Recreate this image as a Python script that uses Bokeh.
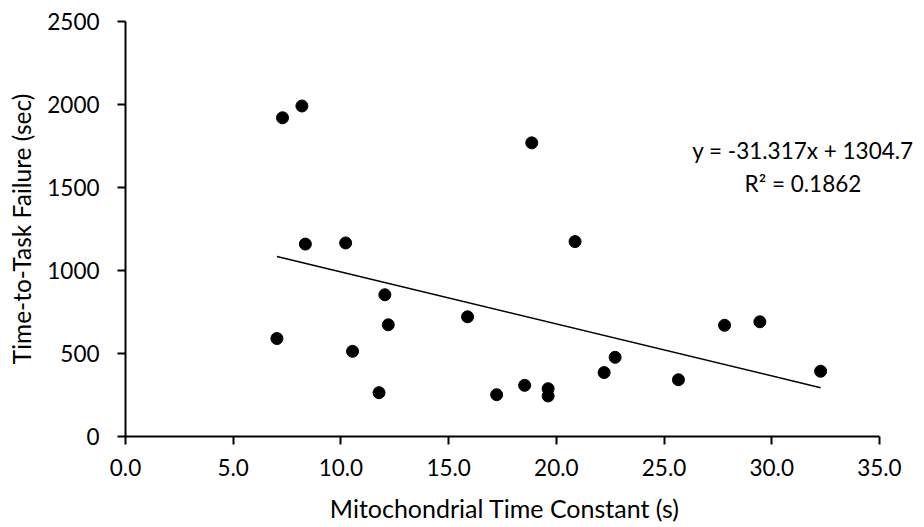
from bokeh.plotting import figure
from bokeh.models import Range1d, Label, FixedTicker, CustomJSTickFormatter
from bokeh.embed import file_html
from bokeh.resources import INLINE

# Data
tau = [7.03, 7.29, 8.19, 8.35, 10.22, 10.54, 11.77, 12.04, 12.2, 15.88, 17.23,
       18.53, 18.86, 19.62, 19.62, 20.87, 22.22, 22.73, 25.67, 27.81, 29.45, 32.27]
ttf = [590, 1920, 1991, 1159, 1166, 513, 264, 854, 673, 721, 252,
       308, 1769, 288, 244, 1174, 385, 477, 342, 670, 691, 393]

slope = -31.317
intercept = 1304.7
r2 = 0.1862

x_ticks = [0, 5, 10, 15, 20, 25, 30, 35]
y_ticks = [0, 500, 1000, 1500, 2000, 2500]

x_title = "Mitochondrial Time Constant (s)"
y_title = "Time-to-Task Failure (sec)"

FONT = "Lato"
FS = "22.5px"

# x range extends a little past 35 so the equation text is not clipped;
# the axis itself is bounded to 0..35
p = figure(width=924, height=527, output_backend="svg", toolbar_location=None,
           x_range=Range1d(0, 37.0), y_range=Range1d(0, 2500),
           min_border_left=125, min_border_right=2, min_border_top=21,
           min_border_bottom=91)
p.outline_line_color = None
p.grid.visible = False
p.background_fill_color = "white"
p.border_fill_color = "white"

# trendline
tx = [min(tau), max(tau)]
ty = [slope * v + intercept for v in tx]
p.line(tx, ty, line_color="black", line_width=1.6)

p.scatter(tau, ttf, size=12, fill_color="black", line_color="black")

for ax in (p.xaxis[0], p.yaxis[0]):
    ax.axis_line_color = "black"
    ax.axis_line_width = 2
    ax.major_tick_line_color = "black"
    ax.major_tick_line_width = 2
    ax.major_tick_in = 0
    ax.major_tick_out = 8
    ax.minor_tick_line_color = None
    ax.major_label_text_font = FONT
    ax.major_label_text_font_size = FS
    ax.major_label_text_color = "black"
    ax.axis_label_text_font = FONT
    ax.axis_label_text_font_style = "normal"
    ax.axis_label_text_color = "black"

p.xaxis.ticker = FixedTicker(ticks=x_ticks)
p.xaxis.formatter = CustomJSTickFormatter(code="return tick.toFixed(1);")
p.xaxis.bounds = (0, 35)
p.yaxis.ticker = FixedTicker(ticks=y_ticks)
p.yaxis.bounds = (0, 2500)

# the frame extends past 35, so pad the label on the right with no-break
# spaces to keep it centred under the 0..35 axis
p.xaxis.axis_label = x_title + "\u00a0" * 6
p.xaxis.axis_label_text_font_size = "25px"
p.yaxis.axis_label = y_title
p.yaxis.axis_label_text_font_size = "24.5px"
p.xaxis.major_label_standoff = 14
p.xaxis.axis_label_standoff = 14
p.yaxis.major_label_standoff = 18
p.yaxis.axis_label_standoff = 8

eq = Label(x=31.45, y=1723, text=f"y = {slope}x + {intercept}", text_align="center",
           text_baseline="middle", text_font=FONT, text_font_size=FS, text_color="black")
rl = Label(x=31.45, y=1524, text=f"R² = {r2}", text_align="center",
           text_baseline="middle", text_font=FONT, text_font_size=FS, text_color="black")
p.add_layout(eq)
p.add_layout(rl)

open("out.html", "w").write(file_html(p, INLINE))
